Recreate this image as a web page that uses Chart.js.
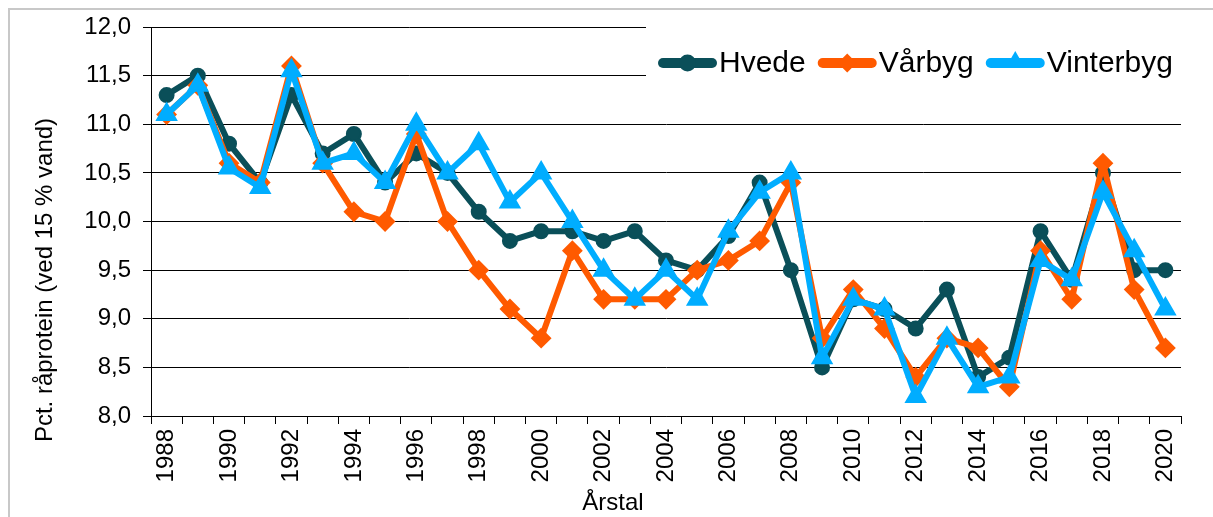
<!DOCTYPE html>
<html><head><meta charset="utf-8">
<script src="https://cdn.jsdelivr.net/npm/chart.js@4.4.1/dist/chart.umd.min.js"></script>
<style>
html,body{margin:0;padding:0;background:#fff;}
#wrap{position:relative;width:1213px;height:517px;overflow:hidden;background:#fff;}
#frame{position:absolute;left:8px;top:8px;width:1300px;height:600px;border-top:2px solid #c8c8c8;border-left:2px solid #c8c8c8;pointer-events:none;}
canvas{display:block;}
</style></head><body>
<div id="wrap"><canvas id="c" width="1213" height="517"></canvas><div id="frame"></div></div>
<script>
const years = ["1988","1989","1990","1991","1992","1993","1994","1995","1996","1997","1998","1999","2000","2001","2002","2003","2004","2005","2006","2007","2008","2009","2010","2011","2012","2013","2014","2015","2016","2017","2018","2019","2020"];
const hvede = [11.3,11.5,10.8,10.4,11.3,10.7,10.9,10.4,10.7,10.5,10.1,9.8,9.9,9.9,9.8,9.9,9.6,9.5,9.85,10.4,9.5,8.5,9.2,9.1,8.9,9.3,8.4,8.6,9.9,9.4,10.5,9.5,9.5];
const vaarbyg = [11.1,11.4,10.6,10.4,11.6,10.6,10.1,10.0,10.9,10.0,9.5,9.1,8.8,9.7,9.2,9.2,9.2,9.5,9.6,9.8,10.4,8.8,9.3,8.9,8.4,8.8,8.7,8.3,9.7,9.2,10.6,9.3,8.7];
const vinterbyg = [11.1,11.4,10.55,10.35,11.55,10.6,10.7,10.4,11.0,10.5,10.8,10.2,10.5,10.0,9.5,9.2,9.5,9.2,9.9,10.3,10.5,8.6,9.2,9.1,8.2,8.8,8.3,8.4,9.6,9.4,10.3,9.7,9.1];
const seriesNames = ["Hvede","Vårbyg","Vinterbyg"];
const yTicks = [8.0,8.5,9.0,9.5,10.0,10.5,11.0,11.5,12.0];
const yTitle = "Pct. råprotein (ved 15 % vand)";
const xTitle = "Årstal";

const FONT = "'Liberation Sans', Arial, sans-serif";
const colors = ["#0a4f59","#ff5a00","#00adff"];
const styles = ["circle","rectRot","triangle"];

Chart.defaults.font.family = FONT;
Chart.defaults.color = "#000";

function ds(label, data, color, style, radius, order){
  return {label, data, borderColor: color, backgroundColor: color, pointBackgroundColor: color,
    pointBorderColor: color, borderWidth: 6, pointRadius: radius, pointBorderWidth: 2,
    pointStyle: style, tension: 0, borderJoinStyle: 'round', borderCapStyle: 'round', order, fill: false};
}

function drawMarker(ctx, style, x, y, r){
  ctx.beginPath();
  if (style === 'circle') ctx.arc(x, y, r, 0, Math.PI*2);
  else if (style === 'rectRot'){ ctx.moveTo(x-r,y); ctx.lineTo(x,y-r); ctx.lineTo(x+r,y); ctx.lineTo(x,y+r); ctx.closePath(); }
  else { ctx.moveTo(x, y-r); ctx.lineTo(x+r*0.866, y+r*0.5); ctx.lineTo(x-r*0.866, y+r*0.5); ctx.closePath(); }
  ctx.fill();
}

const overlay = {
  id: 'overlay',
  afterDraw(chart){
    const ctx = chart.ctx;
    ctx.save();
    // legend box
    ctx.fillStyle = '#fff';
    ctx.fillRect(646, 20, 540, 82);
    ctx.font = "30px " + FONT;
    ctx.textBaseline = 'middle';
    ctx.textAlign = 'left';
    let x = 658; const y = 63;
    chart.data.datasets.forEach((d, i) => {
      ctx.strokeStyle = colors[i]; ctx.fillStyle = colors[i];
      ctx.lineWidth = 10; ctx.lineCap = 'round';
      ctx.beginPath(); ctx.moveTo(x+5, y); ctx.lineTo(x+59-5, y); ctx.stroke();
      drawMarker(ctx, styles[i], x+29.5, i===2 ? y-1 : y, i===0 ? 8.5 : (i===1 ? 9.5 : 11));
      ctx.fillStyle = '#000';
      ctx.fillText(d.label, x+61, y+1);
      x += 61 + ctx.measureText(d.label).width + 12;
    });
    // axis titles
    ctx.font = "24px " + FONT;
    ctx.fillStyle = '#000';
    ctx.textAlign = 'center';
    ctx.textBaseline = 'middle';
    ctx.save();
    ctx.translate(45, 280);
    ctx.rotate(-Math.PI/2);
    ctx.fillText(yTitle, 0, 0);
    ctx.restore();
    ctx.textBaseline = 'alphabetic';
    ctx.fillText(xTitle, 613, 510);
    ctx.restore();
  }
};

new Chart(document.getElementById('c'), {
  type: 'line',
  data: {
    labels: years,
    datasets: [
      ds(seriesNames[0], hvede, colors[0], styles[0], 7, 3),
      ds(seriesNames[1], vaarbyg, colors[1], styles[1], 9, 2),
      ds(seriesNames[2], vinterbyg, colors[2], styles[2], 11, 1)
    ]
  },
  options: {
    responsive: false,
    animation: false,
    devicePixelRatio: 1,
    layout: { padding: { top: 27, right: 32, bottom: 0, left: 0 } },
    plugins: { legend: { display: false }, tooltip: { enabled: false } },
    scales: {
      x: {
        type: 'category',
        offset: true,
        grid: { display: true, drawOnChartArea: false, drawTicks: true, tickLength: 8, offset: true, color: '#000', lineWidth: 1 },
        border: { display: true, color: '#000', width: 1 },
        ticks: {
          autoSkip: false, minRotation: 90, maxRotation: 90, padding: 5,
          font: { size: 24, family: FONT }, color: '#000',
          callback: function(v, i){ return i % 2 === 0 ? years[i] : ''; }
        },
        afterFit(s){ s.height = 101; }
      },
      y: {
        min: 8, max: 12,
        afterBuildTicks(s){ s.ticks = yTicks.map(v => ({value: v})); },
        grid: { color: '#000', lineWidth: 1, drawTicks: true, tickLength: 8 },
        border: { display: true, color: '#000', width: 1 },
        ticks: {
          padding: 12, font: { size: 24, family: FONT }, color: '#000',
          callback: v => Number(v).toFixed(1).replace('.', ',')
        },
        afterFit(s){ s.width = 151; }
      }
    }
  },
  plugins: [overlay]
});
</script>
</body></html>
